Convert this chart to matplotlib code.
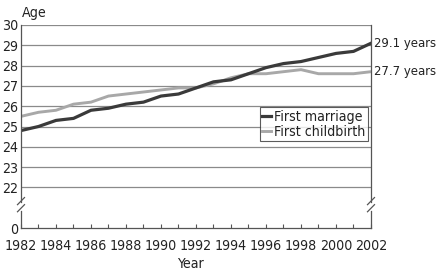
import os
import matplotlib
matplotlib.use("Agg")
import matplotlib.pyplot as plt
from matplotlib import font_manager
from matplotlib.font_manager import FontProperties

years = list(range(1982, 2003))
first_marriage = [24.8, 25.0, 25.3, 25.4, 25.8, 25.9, 26.1, 26.2, 26.5, 26.6, 26.9,
                  27.2, 27.3, 27.6, 27.9, 28.1, 28.2, 28.4, 28.6, 28.7, 29.1]
first_childbirth = [25.5, 25.7, 25.8, 26.1, 26.2, 26.5, 26.6, 26.7, 26.8, 26.9, 26.9,
                    27.1, 27.4, 27.6, 27.6, 27.7, 27.8, 27.6, 27.6, 27.6, 27.7]
ytick_values = [20, 22, 23, 24, 25, 26, 27, 28, 29, 30]
ytick_labels = ["0", "22", "23", "24", "25", "26", "27", "28", "29", "30"]
xtick_values = list(range(1982, 2003, 2))
end_labels = ["29.1 years", "27.7 years"]

# pick a condensed font if available
cands = ["LiberationSansNarrow-Regular", "DejaVuSansCondensed.ttf", "RobotoCondensed-Regular",
         "OpenSans_Condensed-Regular", "OpenSansCondensed"]
path = None
for c in cands:
    for f in font_manager.fontManager.ttflist:
        if c in os.path.basename(f.fname):
            path = f.fname
            break
    if path:
        break

FS = 10.2
def fp(size=FS):
    if path:
        return FontProperties(fname=path, size=size)
    return FontProperties(family="DejaVu Sans", stretch="condensed", size=size)

fig = plt.figure(figsize=(4.39, 2.72), dpi=100)
ax = fig.add_axes([21/439, 1 - 228/272, (371-21)/439, (228-25)/272])

dark = "#3a3a3a"
light = "#a8a8a8"
gridc = "#8a8a8a"
txt = "#222222"

for v in ytick_values[1:]:
    ax.axhline(v, color=gridc, lw=0.9, zorder=1)

l2, = ax.plot(years, first_childbirth, color=light, lw=2.1, label="First childbirth", zorder=3)
l1, = ax.plot(years, first_marriage, color=dark, lw=2.3, label="First marriage", zorder=4)

ax.set_xlim(1982, 2002)
ax.set_ylim(20, 30)
ax.set_yticks(ytick_values)
ax.set_yticklabels(ytick_labels)
ax.set_xticks(xtick_values)
ax.set_xticks(years, minor=True)
ax.tick_params(axis="x", which="both", direction="in", length=3, width=0.8, color="#555555",
               pad=8)
ax.tick_params(axis="y", which="both", length=0, pad=2)
for lab in ax.get_xticklabels() + ax.get_yticklabels():
    lab.set_fontproperties(fp())
    lab.set_color(txt)

for s in ["top", "left", "right"]:
    ax.spines[s].set_visible(False)
ax.spines["bottom"].set_color("#555555")
ax.spines["bottom"].set_linewidth(0.9)

# spines with break marks
for xv in [1982, 2002]:
    ax.plot([xv, xv], [20, 20.85], color="#555555", lw=0.9, clip_on=False, zorder=5)
    ax.plot([xv, xv], [21.3, 30], color="#555555", lw=0.9, clip_on=False, zorder=5)
    for y0 in [20.8, 21.15]:
        ax.plot([xv - 0.2, xv + 0.2], [y0, y0 + 0.35], color="#555555", lw=0.9,
                clip_on=False, zorder=6)

leg = ax.legend([l1, l2], ["First marriage", "First childbirth"],
                loc="upper right", bbox_to_anchor=((368-21)/350, (228-107)/203),
                prop=fp(), frameon=True, fancybox=False, handlelength=0.6,
                handletextpad=0.2, borderpad=0.2, labelspacing=0.05, borderaxespad=0)
leg.get_frame().set_edgecolor("#333333")
leg.get_frame().set_linewidth(0.8)
for t in leg.get_texts():
    t.set_color(txt)

ax.annotate(end_labels[0], xy=(years[-1], first_marriage[-1]), xytext=(2.5, 0),
            textcoords="offset points", va="center", ha="left", fontproperties=fp(9.4),
            color=txt, annotation_clip=False)
ax.annotate(end_labels[1], xy=(years[-1], first_childbirth[-1]), xytext=(2.5, 0),
            textcoords="offset points", va="center", ha="left", fontproperties=fp(9.4),
            color=txt, annotation_clip=False)

fig.text(22/439, 1 - 13/272, "Age", fontproperties=fp(), color=txt, va="center", ha="left")
fig.text(190/439, 1 - 264/272, "Year", fontproperties=fp(), color=txt, va="center", ha="center")

fig.savefig("out.png", dpi=100)
